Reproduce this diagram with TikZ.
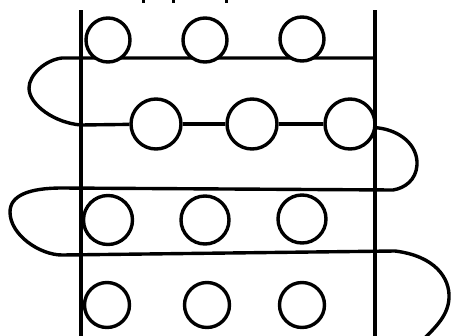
\documentclass[tikz,border=0pt]{standalone}
\usetikzlibrary{backgrounds}
\begin{document}
\begin{tikzpicture}[x=1pt,y=-1pt,
  ring/.style={circle, draw, fill=white, inner sep=0pt, line width=3.4pt, minimum size=#1},
  ring/.default=47pt,
  rail/.style={line width=3.8pt},
  cord/.style={line width=3.4pt, line join=round},
  tick/.style={line width=3pt}]
\useasboundingbox (0,0) rectangle (452,335);
\clip (0,0) rectangle (452,335);
% named points
\coordinate (l1r) at (374,58);
\coordinate (l1l) at (62,58);
\coordinate (l2l) at (81,125);
\coordinate (r1e) at (393,190);
\coordinate (l3l) at (62,188);
\coordinate (l4l) at (62,255);
\coordinate (l4r) at (395,251);
\coordinate (r3e) at (418,345);
% row 1
\node[ring=44pt] (a1) at (108,40) {};
\node[ring=44pt] (a2) at (205,40) {};
\node[ring=44pt] (a3) at (302,39) {};
% row 2
\node[ring=50pt] (b1) at (156,124) {};
\node[ring=50pt] (b2) at (252,124) {};
\node[ring=50pt] (b3) at (350,124) {};
% row 3
\node[ring=49pt] (c1) at (108,220) {};
\node[ring=48pt] (c2) at (205,220) {};
\node[ring=48pt] (c3) at (302,219) {};
% row 4
\node[ring=45pt] (d1) at (107,305) {};
\node[ring=45pt] (d2) at (207,305) {};
\node[ring=45pt] (d3) at (302,305) {};
% cords (behind circles)
\begin{pgfonlayer}{background}
\draw[cord] (l1r) -- (l1l) .. controls (45,60) and (29,75) .. (29,88)
  .. controls (29,105) and (55,123) .. (l2l) -- (b1);
\draw[cord] (b1) -- (b2);
\draw[cord] (b2) -- (b3);
\draw[cord] (b3.-8) .. controls (400,130) and (418,145) .. (417,165)
  .. controls (416,180) and (405,188) .. (r1e) -- (l3l)
  .. controls (30,188) and (10,195) .. (10,212)
  .. controls (10,235) and (40,255) .. (l4l) -- (l4r)
  .. controls (435,256) and (450,278) .. (449,298)
  .. controls (448,318) and (432,330) .. (r3e);
\end{pgfonlayer}
% rails
\draw[rail] (81,10) -- (81,340);
\draw[rail] (375,10) -- (375,340);
% small marks at the top edge
\draw[tick] (143,0) -- (143,3);
\draw[tick] (173,0) -- (173,3);
\draw[tick] (226,0) -- (226,3);
\end{tikzpicture}
\end{document}
